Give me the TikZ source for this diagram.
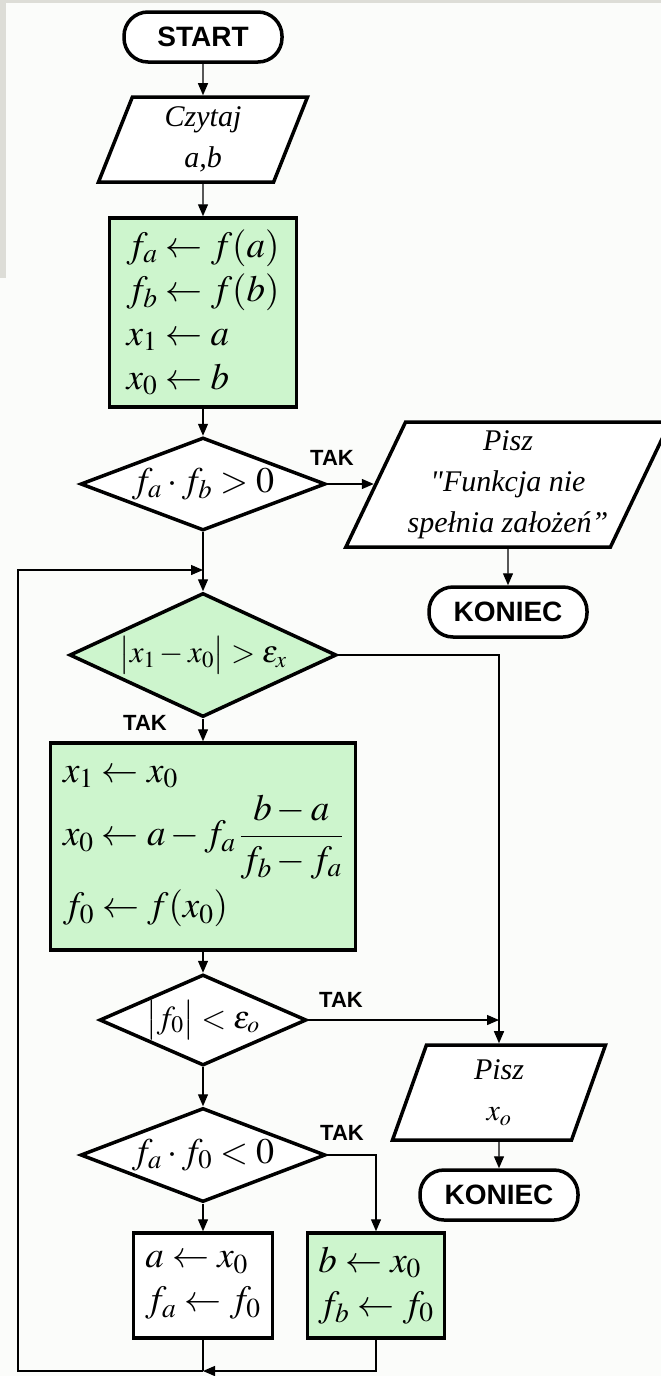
\documentclass[tikz,border=0pt]{standalone}
\usepackage{mathptmx}
\usepackage[no-math]{fontspec}
\setmainfont{Liberation Serif}
\newfontfamily\labelfont{Liberation Sans}
\usepackage{tikz}
\usetikzlibrary{positioning,arrows.meta,shapes.geometric,calc}
\definecolor{boxgreen}{RGB}{205,245,205}
\definecolor{pagebg}{RGB}{251,252,250}
\definecolor{framegray}{RGB}{221,221,215}
\tikzset{
  terminal/.style={rectangle,rounded corners=24pt,draw,line width=3.5pt,minimum width=158pt,minimum height=50pt,fill=white,font=\labelfont\bfseries\fontsize{28}{30}\selectfont},
  iobox/.style={trapezium,trapezium left angle=64,trapezium right angle=116,trapezium stretches body,draw,line width=3.5pt,fill=white,align=center,inner sep=2pt,font=\itshape\fontsize{30}{41}\selectfont},
  procbox/.style={rectangle,draw,line width=3.5pt,fill=boxgreen,align=left,inner sep=4pt,font=\fontsize{37}{44}\selectfont},
  plainbox/.style={procbox,fill=white},
  decision/.style={diamond,draw,line width=3.5pt,fill=white,inner sep=0pt,aspect=2.4,font=\fontsize{36}{40}\selectfont},
  taklabel/.style={font=\labelfont\bfseries\fontsize{22}{24}\selectfont,inner sep=0pt},
  link/.style={-{Triangle[length=12pt,width=10pt]},line width=1.3pt},
  wire/.style={line width=1.3pt}
}
\begin{document}
\begin{tikzpicture}[x=1pt,y=-1pt]
  \fill[pagebg] (0,0) rectangle (661,1376);
  \useasboundingbox (0,0) rectangle (661,1376);
  \fill[framegray] (0,0) rectangle (661,3);
  \fill[framegray] (0,0) rectangle (6,278);

  \node[terminal] (start) at (203,37) {START};
  \node[iobox,minimum width=209pt,minimum height=85pt] (read) at (203,139.5) {Czytaj\\a,b};
  \node[procbox,minimum width=187pt,minimum height=189pt] (init) at (203,312.5)
    {$f_a \leftarrow f(a)$\\$f_b \leftarrow f(b)$\\$x_1 \leftarrow a$\\$x_0 \leftarrow b$};
  \node[decision,minimum width=245pt,minimum height=93pt] (cond1) at (203,484) {$f_a\cdot f_b>0$};
  \node[iobox,trapezium left angle=62,trapezium right angle=118,minimum width=321pt,minimum height=125pt] (msg) at (508,484.5)
    {Pisz\\\textquotedbl Funkcja nie\\spełnia założeń''};
  \node[terminal] (stop1) at (508,612) {KONIEC};
  \node[decision,fill=boxgreen,aspect=2.15,minimum width=267pt,minimum height=124pt,font=\fontsize{31}{40}\selectfont] (cond2) at (203,655)
    {$\bigl|x_1-x_0\bigr|>\varepsilon_x$};
  \node[procbox,minimum width=305pt,minimum height=207pt] (secant) at (203,846.5)
    {$x_1 \leftarrow x_0$\\[6pt]$x_0 \leftarrow a-f_a\,{\displaystyle\frac{b-a}{f_b-f_a}}$\\[10pt]$f_0 \leftarrow f(x_0)$};
  \node[decision,aspect=2.27,minimum width=207pt,minimum height=91pt,font=\fontsize{32}{40}\selectfont] (cond3) at (203,1020)
    {$\bigl|f_0\bigr|<\varepsilon_o$};
  \node[iobox,minimum width=213pt,minimum height=95pt] (out) at (499,1092.5) {Pisz\\$x_o$};
  \node[terminal] (stop2) at (499,1195) {KONIEC};
  \node[decision,aspect=2.6,minimum width=245pt,minimum height=94pt] (cond4) at (203,1155) {$f_a\cdot f_0<0$};
  \node[plainbox,minimum width=139pt,minimum height=105pt] (seta) at (203,1285.5)
    {$a \leftarrow x_0$\\$f_a \leftarrow f_0$};
  \node[procbox,minimum width=137pt,minimum height=105pt] (setb) at (376,1285.5)
    {$b \leftarrow x_0$\\$f_b \leftarrow f_0$};

  \node[taklabel] (tak1) at (332,458) {TAK};
  \node[taklabel] (tak2) at (145,723) {TAK};
  \node[taklabel] (tak3) at (341,1000) {TAK};
  \node[taklabel] (tak4) at (342,1133) {TAK};

  \coordinate (loopin) at (203,570);
  \coordinate (join) at (203,1371);
  \coordinate (leftbot) at (18,1371);
  \coordinate (lefttop) at (18,570);

  \draw[link] (start) -- (read);
  \draw[link] (read) -- (init);
  \draw[link] (init) -- (cond1);
  \draw[link] (cond1.east) -- (msg.west |- cond1.east);
  \draw[link] (msg) -- (stop1);
  \draw[link] (cond1.south) -- (cond2.north);
  \draw[link] (cond2.east) -| (out.north);
  \draw[link] (cond2.south) -- (secant.north);
  \draw[link] (secant) -- (cond3);
  \draw[link] (cond3.east) -- (cond3.east -| out.north);
  \draw[link] (out) -- (stop2);
  \draw[link] (cond3.south) -- (cond4.north);
  \draw[link] (cond4.east) -| (setb.north);
  \draw[link] (cond4.south) -- (seta.north);
  \draw[wire] (seta.south) -- (join);
  \draw[link] (setb.south) |- (join);
  \draw[link] (join) -- (leftbot) -- (lefttop) -- (loopin);
\end{tikzpicture}
\end{document}
